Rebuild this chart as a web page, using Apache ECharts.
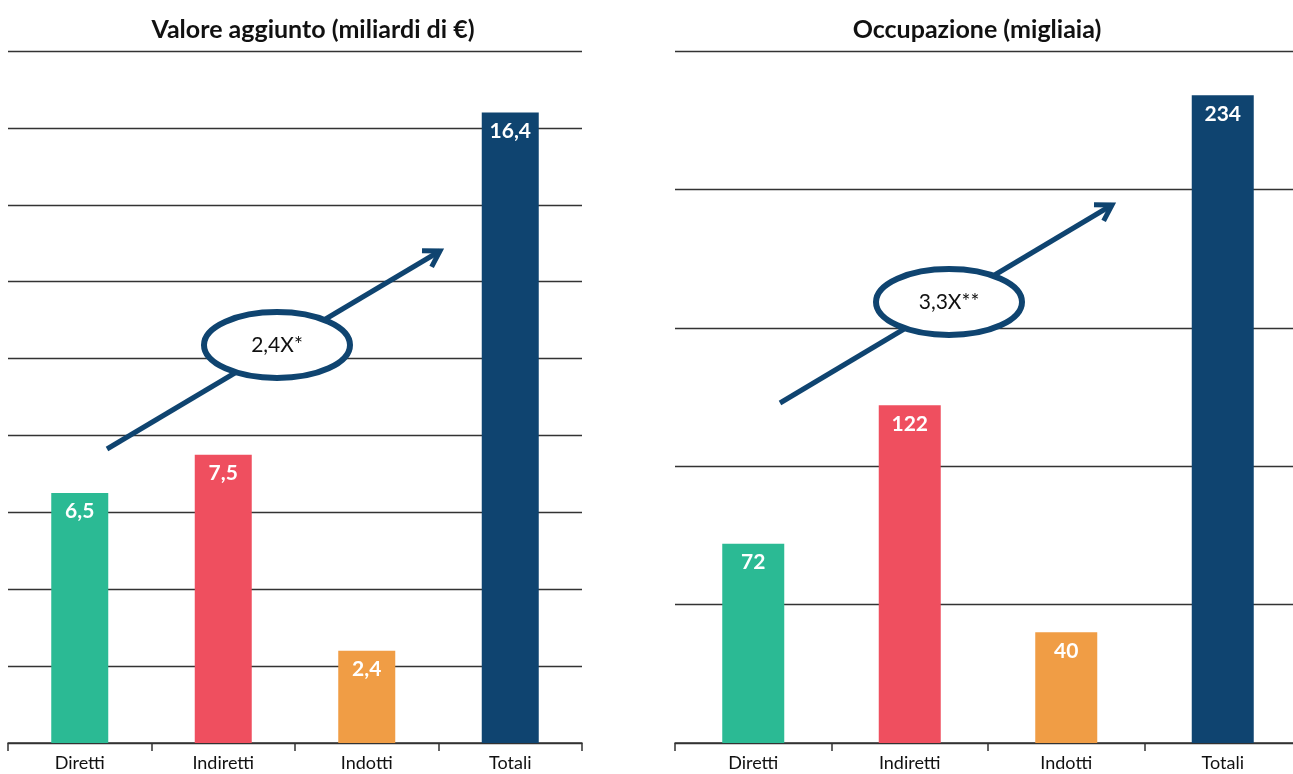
<!DOCTYPE html>
<html>
<head>
<meta charset="utf-8">
<script src="https://cdn.jsdelivr.net/npm/echarts@6/dist/echarts.min.js"></script>
<style>
  html, body { margin: 0; padding: 0; background: #fff; }
  #main { width: 1293px; height: 774px; }
</style>
</head>
<body>
<div id="main"></div>
<script>
var categories = ["Diretti", "Indiretti", "Indotti", "Totali"];
var valoreAggiunto = [6.5, 7.5, 2.4, 16.4];
var occupazione = [72, 122, 40, 234];
var barColors = ["#2bba94", "#ef4f5f", "#f09d45", "#0f4470"];
var titles = ["Valore aggiunto (miliardi di €)", "Occupazione (migliaia)"];
var multipliers = ["2,4X*", "3,3X**"];

var FONT = "Lato";
var NAVY = "#0f4470";

function fmt(v) {
  return String(v).replace(".", ",");
}

function barData(values) {
  return values.map(function (v, i) {
    return { value: v, itemStyle: { color: barColors[i] } };
  });
}

function xAxisFor(gridIndex) {
  return {
    type: "category",
    gridIndex: gridIndex,
    data: categories,
    axisLine: { lineStyle: { color: "#333", width: 1.5 } },
    axisTick: { show: true, length: 8, lineStyle: { color: "#333", width: 1.5 } },
    axisLabel: { color: "#111", fontFamily: FONT, fontSize: 18, margin: 11 },
  };
}

function yAxisFor(gridIndex, max, interval) {
  return {
    type: "value",
    gridIndex: gridIndex,
    min: 0,
    max: max,
    interval: interval,
    axisLine: { show: false },
    axisTick: { show: false },
    axisLabel: { show: false },
    splitLine: { lineStyle: { color: "#333", width: 1.3 } },
  };
}

function barSeries(idx, values, width) {
  return {
    type: "bar",
    xAxisIndex: idx,
    yAxisIndex: idx,
    data: barData(values),
    barWidth: width,
    label: {
      show: true,
      position: "insideTop",
      distance: 8,
      color: "#fff",
      fontFamily: FONT,
      fontWeight: "bold",
      fontSize: 21,
      formatter: function (p) { return fmt(p.value); },
    },
  };
}

// arrow + ellipse annotation
function annotation(x1, y1, x2, y2, cx, cy, text) {
  var ang = Math.atan2(y2 - y1, x2 - x1);
  var h = 18;
  var a1 = ang + Math.PI - 0.55;
  var a2 = ang + Math.PI + 0.55;
  return [
    {
      type: "line",
      z: 10,
      shape: { x1: x1, y1: y1, x2: x2, y2: y2 },
      style: { stroke: NAVY, lineWidth: 5 },
    },
    {
      type: "polyline",
      z: 10,
      shape: {
        points: [
          [x2 + h * Math.cos(a1), y2 + h * Math.sin(a1)],
          [x2, y2],
          [x2 + h * Math.cos(a2), y2 + h * Math.sin(a2)],
        ],
      },
      style: { stroke: NAVY, lineWidth: 5, fill: null, lineJoin: "miter" },
    },
    {
      type: "ellipse",
      z: 11,
      shape: { cx: cx, cy: cy, rx: 73, ry: 33 },
      style: { fill: "#fff", stroke: NAVY, lineWidth: 6 },
    },
    {
      type: "text",
      z: 12,
      x: cx,
      y: cy,
      style: {
        text: text,
        fill: "#111",
        font: "21px " + FONT,
        align: "center",
        verticalAlign: "middle",
      },
    },
  ];
}

var titleStyle = { fontFamily: FONT, fontWeight: "bold", fontSize: 25, color: "#111" };

var option = {
  animation: false,
  title: [
    { text: titles[0], left: 308, top: 12, textAlign: "center", textStyle: titleStyle },
    { text: titles[1], left: 972, top: 12, textAlign: "center", textStyle: titleStyle },
  ],
  grid: [
    { left: 8, width: 574, top: 51, bottom: 31, outerBoundsMode: "none" },
    { left: 675, width: 626, top: 51, bottom: 31, outerBoundsMode: "none" },
  ],
  xAxis: [xAxisFor(0), xAxisFor(1)],
  yAxis: [yAxisFor(0, 18, 2), yAxisFor(1, 250, 50)],
  series: [barSeries(0, valoreAggiunto, 57), barSeries(1, occupazione, 62)],
  graphic: annotation(107, 449, 440, 251, 277, 345, multipliers[0]).concat(
    annotation(780, 403, 1112, 205, 949, 302, multipliers[1])
  ),
};

// ------------------------------ ECharts Config Start ------------------------------
var myChart = echarts.init(document.getElementById("main"));
myChart.setOption(option);
// ------------------------------ ECharts Config End ------------------------------
</script>
</body>
</html>
